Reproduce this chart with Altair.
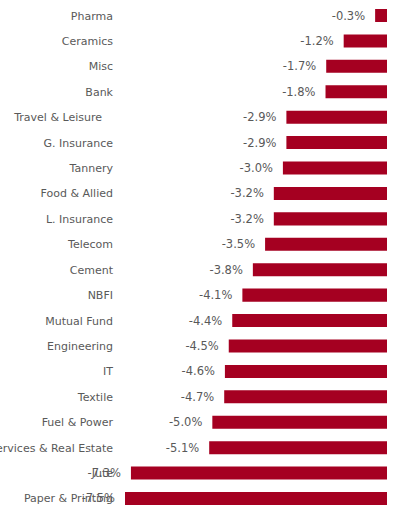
import altair as alt
import pandas as pd

sectors = ["Pharma", "Ceramics", "Misc", "Bank", "Travel & Leisure", "G. Insurance",
           "Tannery", "Food & Allied", "L. Insurance", "Telecom", "Cement", "NBFI",
           "Mutual Fund", "Engineering", "IT", "Textile", "Fuel & Power",
           "Services & Real Estate", "Jute", "Paper & Printing"]
changes = [-0.34, -1.24, -1.74, -1.76, -2.88, -2.88, -2.98, -3.24, -3.24, -3.49,
           -3.84, -4.14, -4.43, -4.53, -4.64, -4.66, -5.0, -5.09, -7.33, -7.5]
shifted = ["Travel & Leisure"]

df = pd.DataFrame({"sector": sectors, "change": changes})
df["label"] = df["change"].map(lambda v: f"{v:.1f}%")

FONT = "DejaVu Sans"
GRAY = "#595959"

y_enc = alt.Y("sector:N", sort=None,
              scale=alt.Scale(paddingInner=0.488, paddingOuter=0),
              axis=None)
x_enc = alt.X("change:Q", scale=alt.Scale(domain=[-7.5, 0], nice=False, zero=True),
              axis=None)

base = alt.Chart(df)
bars = base.mark_bar(color="#A50021").encode(x=x_enc, y=y_enc)
texts = base.mark_text(align="right", baseline="middle", dx=-10, dy=1,
                       font=FONT, fontSize=11.5, color=GRAY).encode(
    x=x_enc, y=alt.Y("sector:N", sort=None), text="label:N")

cat_style = dict(align="right", baseline="middle", dy=1, font=FONT,
                 fontSize=11, color=GRAY)
cats = base.transform_filter(
    ~alt.FieldOneOfPredicate(field="sector", oneOf=shifted)
).mark_text(dx=-12, **cat_style).encode(
    x=alt.value(0), y=alt.Y("sector:N", sort=None), text="sector:N")
cats_shift = base.transform_filter(
    alt.FieldOneOfPredicate(field="sector", oneOf=shifted)
).mark_text(dx=-23, **cat_style).encode(
    x=alt.value(0), y=alt.Y("sector:N", sort=None), text="sector:N")

chart = (bars + texts + cats + cats_shift).properties(
    width=262, height=496,
    background="white",
    autosize=alt.AutoSizeParams(type="none"),
    padding={"left": 125, "right": 16, "top": 9, "bottom": 0},
).configure_view(stroke=None, strokeWidth=0, clip=False)

chart.save("out.html", embed_options={"renderer": "svg", "actions": False})
